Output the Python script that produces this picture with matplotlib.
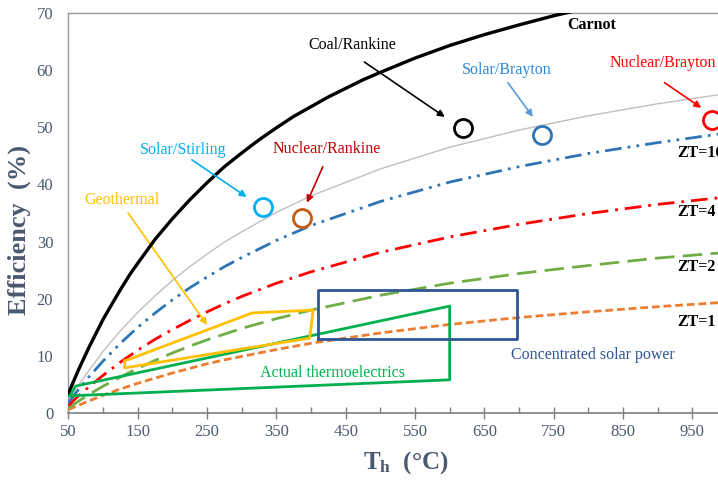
import numpy as np
import matplotlib
matplotlib.use("Agg")
import matplotlib.pyplot as plt
from matplotlib.ticker import FixedLocator, MultipleLocator

plt.rcParams["font.family"] = ["Liberation Serif", "DejaVu Serif"]
plt.rcParams["mathtext.fontset"] = "custom"
plt.rcParams["mathtext.rm"] = "Liberation Serif"
plt.rcParams["mathtext.bf"] = "Liberation Serif:bold"

# ── Efficiency curves (hot-side temperature in °C, efficiency in %) ───────────
th_carnot = [50, 55, 60, 65, 70, 80, 90, 100, 110, 125, 140, 150, 175, 200, 225, 250,
             275, 300, 325, 350, 375, 400, 425, 450, 475, 500, 550, 600, 650, 700, 750, 800]
eff_carnot = [3.4, 4.9, 6.3, 7.7, 9.0, 11.6, 14.0, 16.4, 18.5, 21.6, 24.5, 26.2, 30.4, 34.0, 37.3, 40.3,
              43.1, 45.5, 47.8, 49.9, 51.9, 53.6, 55.3, 56.8, 58.3, 59.6, 62.1, 64.3, 66.2, 67.9, 69.5, 70.9]

th_te = [50, 60, 75, 100, 125, 150, 175, 200, 225, 250, 275, 300, 350, 400, 500, 600, 700, 800, 900, 1000]
eff_upper = [2.2, 4.1, 6.7, 10.8, 14.4, 17.6, 20.5, 23.2, 25.6, 27.8, 29.9, 31.7, 35.1, 38.0, 42.7, 46.5, 49.5, 52.0, 54.1, 55.9]
eff_zt16 = [1.8, 3.4, 5.7, 9.1, 12.2, 15.0, 17.5, 19.8, 21.9, 23.8, 25.6, 27.2, 30.2, 32.8, 37.0, 40.4, 43.1, 45.4, 47.3, 49.0]
eff_zt4 = [1.3, 2.5, 4.1, 6.6, 8.9, 11.0, 12.9, 14.6, 16.2, 17.7, 19.1, 20.4, 22.7, 24.7, 28.1, 30.8, 33.0, 34.9, 36.5, 37.8]
eff_zt2 = [0.9, 1.7, 2.9, 4.7, 6.3, 7.8, 9.2, 10.5, 11.7, 12.8, 13.8, 14.8, 16.5, 18.0, 20.6, 22.7, 24.4, 25.8, 27.1, 28.1]
eff_zt1 = [0.6, 1.1, 1.9, 3.1, 4.2, 5.2, 6.1, 7.0, 7.8, 8.6, 9.3, 9.9, 11.1, 12.2, 14.0, 15.5, 16.7, 17.7, 18.6, 19.4]

# ── Technology regions ────────────────────────────────────────────────────────
te_actual_th = [52, 60, 600, 600, 52]
te_actual_eff = [3.0, 4.7, 18.7, 5.8, 3.0]

geo_th = [131, 315, 403, 398, 131, 131]
geo_eff = [9.1, 17.5, 18.0, 13.1, 7.9, 9.1]

csp_th = [410, 697]
csp_eff = [13.0, 21.5]

# ── Power plants ──────────────────────────────────────────────────────────────
plants = ["Coal/Rankine", "Solar/Brayton", "Nuclear/Brayton", "Solar/Stirling", "Nuclear/Rankine"]
plant_th = [619, 733, 978, 331, 387]
plant_eff = [49.9, 48.7, 51.3, 36.1, 34.1]
plant_colors = ["black", "#2E75B6", "#FF0000", "#00B0F0", "#C55A11"]
label_colors = ["#000000", "#2E86D6", "#FF0000", "#00B0F0", "#C00000"]
arrow_colors = ["#000000", "#5B9BD5", "#FF0000", "#00B0F0", "#C00000"]
label_xy = [(460, 64.4), (682, 60.0), (831, 61.3), (216, 46.0), (423, 46.2)]
label_ha = ["center", "center", "left", "center", "center"]
arrow_from = [(477, 61.4), (684, 57.8), (910, 57.8), (228, 44.3), (417, 43.1)]
arrow_to = [(593, 51.8), (720, 51.8), (963, 53.4), (307, 37.8), (394, 36.8)]

AX_COL = "#4A5870"

fig = plt.figure(figsize=(7.18, 4.82), dpi=100)
ax = fig.add_axes([0.0954, 0.1432, 0.917, 0.830])
ax.set_xlim(50, 1000)
ax.set_ylim(0, 70)

ax.plot(th_te, eff_upper, color="#BFBFBF", lw=1.0, zorder=2)
ax.plot(th_te, eff_zt1, color="#ED7D31", lw=2, ls=(0, (2.8, 1.4)), zorder=3)
ax.plot(th_te, eff_zt2, color="#70AD47", lw=2, ls=(0, (7, 3)), zorder=3)
ax.plot(th_te, eff_zt4, color="#FF0000", lw=2, ls=(0, (6, 2.5, 1, 2.5)), zorder=3)
ax.plot(th_te, eff_zt16, color="#2E75B6", lw=2, ls=(0, (6, 2.2, 1, 2.2, 1, 2.2)), zorder=3)
ax.plot(th_carnot, eff_carnot, color="black", lw=2.4, zorder=4)

# regions
ax.plot(te_actual_th, te_actual_eff, color="#00B050", lw=2, zorder=5)
ax.plot(geo_th, geo_eff, color="#FFC000", lw=2, zorder=5)
ax.plot([csp_th[0], csp_th[1], csp_th[1], csp_th[0], csp_th[0]],
        [csp_eff[0], csp_eff[0], csp_eff[1], csp_eff[1], csp_eff[0]],
        color="#2F5597", lw=2, zorder=5)

# plants: hollow circles, label and arrow
for i, name in enumerate(plants):
    ax.plot(plant_th[i], plant_eff[i], marker="o", ms=13, mfc="none",
            mec=plant_colors[i], mew=2, zorder=6, clip_on=False)
    ax.text(*label_xy[i], name, color=label_colors[i], fontsize=11.5,
            ha=label_ha[i], va="center", zorder=7, clip_on=False)
    ax.annotate("", xy=arrow_to[i], xytext=arrow_from[i],
                arrowprops=dict(arrowstyle="-|>", color=arrow_colors[i],
                                lw=1.2, mutation_scale=10, shrinkA=0, shrinkB=0),
                zorder=7)

ax.text(805, 67.9, "Carnot", fontsize=11.5, fontweight="bold", ha="center", va="center")
ax.text(127, 37.3, "Geothermal", color="#FFC000", fontsize=11.5, ha="center", va="center")
ax.annotate("", xy=(250, 15.4), xytext=(136, 35.0),
            arrowprops=dict(arrowstyle="-|>", color="#FFC000", lw=1.2,
                            mutation_scale=10, shrinkA=0, shrinkB=0))
ax.text(431, 7.0, "Actual thermoelectrics", color="#00B050", fontsize=11.5,
        ha="center", va="center")
ax.text(806, 10.2, "Concentrated solar power", color="#2F5597", fontsize=11.5,
        ha="center", va="center")

for txt, y in [("ZT=16", 45.5), ("ZT=4", 35.2), ("ZT=2", 25.5), ("ZT=1", 15.9)]:
    ax.text(928, y, txt, fontsize=11.5, fontweight="bold", ha="left", va="center")

# axes styling
ax.xaxis.set_major_locator(FixedLocator(list(range(50, 1001, 100))))
ax.xaxis.set_minor_locator(FixedLocator(list(range(100, 1001, 100))))
ax.yaxis.set_major_locator(MultipleLocator(10))
ax.tick_params(axis="x", which="major", direction="inout", length=8, width=1,
               color="#7F7F7F", labelsize=12, labelcolor=AX_COL, pad=4)
ax.tick_params(axis="x", which="minor", direction="in", length=4, width=1, color="#7F7F7F")
ax.tick_params(axis="y", length=0, pad=11, labelsize=12, labelcolor=AX_COL)
for side in ["left", "top", "right"]:
    ax.spines[side].set_color("#9A9A9A")
    ax.spines[side].set_linewidth(1.0)
ax.spines["bottom"].set_color("#7F7F7F")
ax.spines["bottom"].set_linewidth(1.2)

ax.set_ylabel("Efficiency  (%)", fontsize=19, fontweight="bold", color=AX_COL, va="center")
ax.yaxis.set_label_coords(-0.074, 0.4575)
ax.set_xlabel(r"$\mathbf{T_h}$  (°C)", fontsize=18, fontweight="bold", color=AX_COL, va="center")
ax.xaxis.set_label_coords(0.5125, -0.125)

fig.savefig("out.png", dpi=100)
